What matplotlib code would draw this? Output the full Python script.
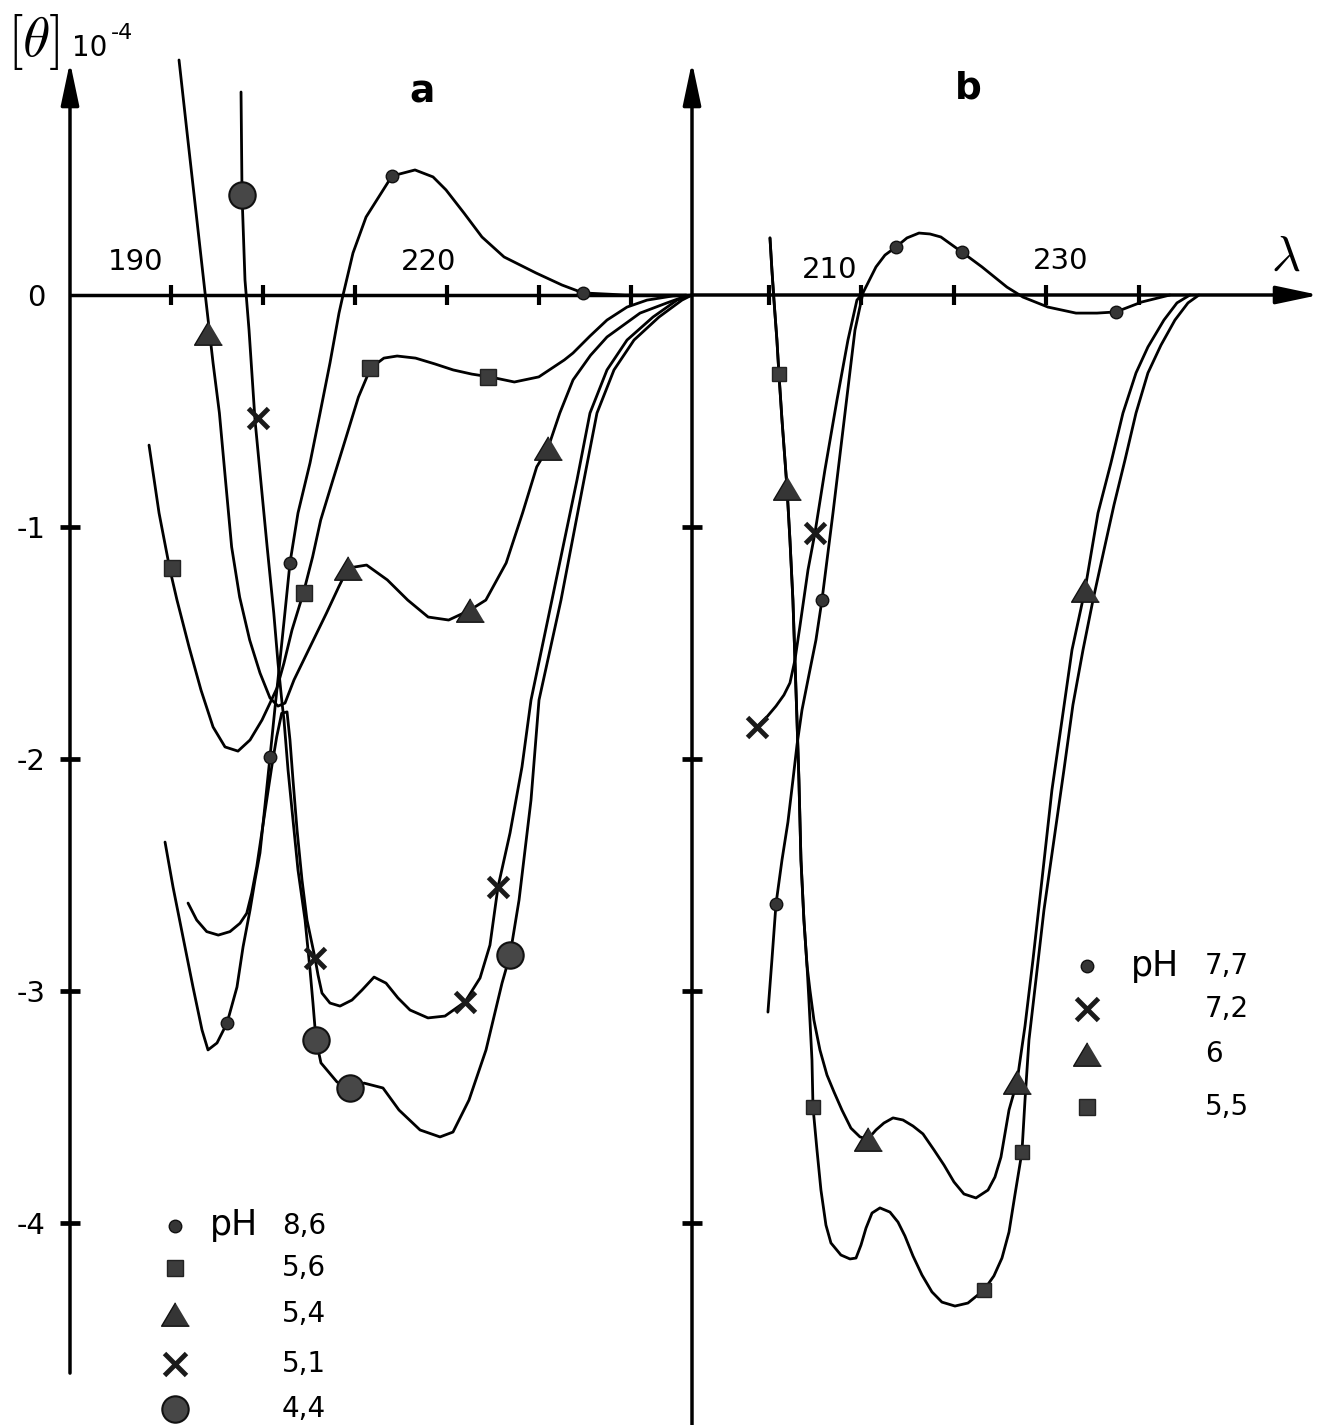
import matplotlib
matplotlib.use("Agg")
import matplotlib.pyplot as plt

plt.rcParams['font.family'] = ['DejaVu Sans']
plt.rcParams['mathtext.fontset'] = 'cm'
plt.rcParams['axes.unicode_minus'] = False

# ---------------- panel a (wavelength nm, [theta] x 1e-4) ----------------
# pH 8.6 (small dots)
a86_wl = [189.35, 190.22, 191.30, 192.39, 193.37, 194.02, 195.00, 196.09, 197.17, 197.83,
          198.59, 199.13, 199.67, 200.22, 200.76, 201.30, 201.85, 202.39, 202.93, 203.80,
          205.11, 206.20, 207.28, 208.26, 208.70, 209.78, 211.20, 214.02, 216.52, 218.48,
          219.89, 221.85, 223.80, 226.20, 229.67, 232.50, 234.78, 239.35, 246.00]
a86_th = [-2.358, -2.552, -2.767, -2.983, -3.168, -3.254, -3.224, -3.138, -2.983, -2.810,
          -2.651, -2.522, -2.405, -2.198, -1.991, -1.780, -1.573, -1.366, -1.155, -0.940,
          -0.724, -0.509, -0.293, -0.078, 0.0, 0.181, 0.336, 0.513, 0.539, 0.509,
          0.453, 0.353, 0.250, 0.164, 0.095, 0.043, 0.009, 0.0, 0.0]
a86_mk_wl = [196.09, 200.76, 202.93, 214.02, 234.78]
a86_mk_th = [-3.138, -1.991, -1.155, 0.513, 0.009]

# pH 5.6 (squares)
a56_wl = [187.61, 188.70, 189.89, 190.65, 191.96, 193.26, 194.57, 195.87, 197.28, 198.59,
          199.89, 200.76, 201.52, 202.28, 203.15, 204.39, 205.39, 206.27, 207.60, 209.04,
          210.37, 211.70, 213.14, 214.58, 216.58, 218.67, 220.67, 222.70, 224.66, 227.32,
          229.98, 232.75, 233.70, 235.54, 237.39, 239.57, 241.74, 244.57, 246.60]
a56_th = [-0.647, -0.940, -1.185, -1.315, -1.517, -1.703, -1.862, -1.948, -1.966, -1.918,
          -1.832, -1.759, -1.694, -1.586, -1.444, -1.284, -1.129, -0.970, -0.797, -0.612,
          -0.440, -0.315, -0.272, -0.263, -0.272, -0.297, -0.323, -0.341, -0.353, -0.375,
          -0.353, -0.280, -0.250, -0.177, -0.108, -0.052, -0.022, -0.004, 0.0]
a56_mk_wl = [190.11, 204.46, 211.63, 224.46]
a56_mk_th = [-1.177, -1.284, -0.315, -0.353]

# pH 5.4 (triangles)
a54_wl = [190.87, 191.75, 192.57, 193.70, 194.57, 195.26, 195.92, 196.59, 197.46, 198.55,
          199.67, 200.76, 201.63, 202.39, 203.37, 205.11, 206.90, 208.22, 209.24, 211.26,
          213.51, 215.73, 217.95, 220.18, 222.50, 224.22, 226.43, 228.21, 229.75, 230.98,
          232.26, 233.70, 235.60, 237.39, 240.98, 243.91, 245.65, 246.60]
a54_th = [1.013, 0.698, 0.409, 0.009, -0.293, -0.509, -0.797, -1.086, -1.302, -1.487,
          -1.629, -1.737, -1.772, -1.759, -1.659, -1.517, -1.371, -1.259, -1.177, -1.164,
          -1.228, -1.315, -1.388, -1.401, -1.358, -1.315, -1.155, -0.940, -0.741, -0.659,
          -0.509, -0.366, -0.260, -0.181, -0.078, -0.034, -0.009, 0.0]
a54_mk_wl = [194.0, 209.24, 222.50, 230.98]
a54_mk_th = [-0.164, -1.177, -1.358, -0.659]

# pH 5.1 (crosses)
a51_wl = [191.85, 192.79, 193.88, 195.14, 196.41, 197.50, 198.23, 198.77, 199.32, 199.86,
          200.40, 200.95, 201.49, 202.03, 202.61, 202.93, 203.26, 203.70, 204.24, 204.78,
          205.65, 205.98, 206.41, 207.28, 208.37, 209.67, 210.76, 212.07, 213.37, 214.67,
          215.98, 217.93, 219.78, 221.96, 223.59, 224.67, 225.54, 226.85, 228.15, 229.13,
          231.63, 234.13, 235.54, 237.39, 239.57, 242.39, 245.00, 246.63]
a51_th = [-2.621, -2.694, -2.744, -2.759, -2.744, -2.708, -2.665, -2.579, -2.464, -2.320,
          -2.177, -2.033, -1.904, -1.803, -1.797, -1.918, -2.091, -2.306, -2.522, -2.694,
          -2.858, -2.931, -3.009, -3.052, -3.065, -3.039, -2.996, -2.940, -2.966, -3.030,
          -3.082, -3.116, -3.108, -3.047, -2.944, -2.802, -2.552, -2.319, -2.034, -1.746,
          -1.272, -0.797, -0.509, -0.323, -0.194, -0.095, -0.022, 0.0]
a51_mk_wl = [199.46, 205.65, 221.96, 225.54]
a51_mk_th = [-0.530, -2.858, -3.047, -2.552]

# pH 4.4 (large circles)
a44_wl = [197.61, 197.72, 198.04, 198.48, 199.13, 199.75, 200.45, 201.17, 201.63, 202.07,
          202.28, 202.72, 203.26, 203.80, 204.57, 205.11, 205.43, 205.76, 206.30, 208.04,
          209.46, 210.98, 213.04, 214.78, 217.07, 219.24, 220.65, 222.39, 224.24, 225.98,
          226.85, 227.83, 229.13, 230.00, 232.39, 234.89, 236.30, 238.15, 240.33, 243.04,
          245.54, 246.63]
a44_th = [0.875, 0.431, 0.065, -0.151, -0.539, -0.797, -1.086, -1.371, -1.586, -1.759,
          -1.832, -2.047, -2.263, -2.478, -2.694, -2.909, -3.052, -3.211, -3.310, -3.392,
          -3.418, -3.397, -3.418, -3.513, -3.599, -3.629, -3.608, -3.470, -3.254, -2.966,
          -2.845, -2.608, -2.177, -1.746, -1.315, -0.797, -0.509, -0.323, -0.194, -0.095,
          -0.022, 0.0]
a44_mk_wl = [197.72, 205.76, 209.46, 226.85]
a44_mk_th = [0.431, -3.211, -3.418, -2.845]

# ---------------- panel b ----------------
# pH 7.7 (small dots)
b77_wl = [199.89, 200.32, 200.76, 201.41, 202.05, 202.59, 203.03, 203.57, 204.32, 205.08,
          205.73, 206.92, 208.22, 209.30, 210.16, 211.57, 212.54, 213.73, 214.92, 216.22,
          217.41, 218.59, 220.86, 223.03, 225.73, 227.46, 230.16, 233.19, 235.46, 237.51,
          240.32, 243.35]
b77_th = [-3.091, -2.866, -2.625, -2.435, -2.272, -2.091, -1.940, -1.789, -1.638, -1.487,
          -1.315, -0.940, -0.509, -0.151, 0.009, 0.121, 0.172, 0.207, 0.246, 0.267,
          0.263, 0.250, 0.185, 0.121, 0.034, -0.009, -0.052, -0.078, -0.078, -0.073,
          -0.030, 0.0]
b77_mk_wl = [200.76, 205.73, 213.73, 220.86, 237.51]
b77_mk_th = [-2.625, -1.315, 0.207, 0.185, -0.073]

# pH 7.2 (crosses)
b72_wl = [198.70, 199.68, 200.76, 201.62, 202.27, 202.81, 203.35, 204.22, 204.97, 206.05,
          207.35, 208.54, 209.51, 210.16]
b72_th = [-1.862, -1.823, -1.772, -1.724, -1.672, -1.573, -1.427, -1.185, -1.026, -0.754,
          -0.453, -0.194, -0.022, 0.009]
b72_mk_wl = [198.70, 204.97]
b72_mk_th = [-1.862, -1.026]

# common steep branch of pH 6 and pH 5.5 below 204 nm
b_left_wl = [200.11, 200.32, 200.54, 200.86, 201.08, 201.41, 201.73, 201.95, 202.27, 202.59,
             202.81, 203.03, 203.24, 203.46, 203.78, 204.11]
b_left_th = [0.246, 0.108, -0.022, -0.194, -0.341, -0.539, -0.711, -0.832, -1.056, -1.315,
             -1.573, -1.832, -2.091, -2.435, -2.694, -2.888]

# pH 6 (triangles)
b6_wl = b_left_wl + [204.43, 204.86, 205.51, 206.27, 207.03, 207.89, 208.86, 209.84, 210.70,
                     211.57, 212.43, 213.41, 214.49, 215.57, 216.65, 217.84, 218.92, 220.00,
                     221.08, 222.38, 223.68, 224.43, 225.08, 225.95, 226.81, 227.68, 228.54,
                     229.51, 230.59, 231.68, 232.76, 234.16, 235.57, 236.97, 238.27, 239.68,
                     240.97, 242.70, 244.11, 245.51]
b6_th = b_left_th + [-2.996, -3.125, -3.254, -3.362, -3.435, -3.513, -3.591, -3.629, -3.638,
                     -3.599, -3.569, -3.547, -3.556, -3.582, -3.616, -3.685, -3.750, -3.823,
                     -3.875, -3.892, -3.858, -3.802, -3.716, -3.513, -3.392, -3.151, -2.866,
                     -2.522, -2.134, -1.832, -1.530, -1.272, -0.940, -0.724, -0.509, -0.336,
                     -0.224, -0.108, -0.034, 0.0]
b6_mk_wl = [201.95, 210.70, 226.81, 234.16]
b6_mk_th = [-0.832, -3.638, -3.392, -1.272]

# pH 5.5 (squares)
b55_wl = b_left_wl + [204.32, 204.65, 204.76, 205.19, 205.62, 206.16, 206.70, 207.78, 208.76,
                      209.41, 209.95, 210.49, 211.14, 212.00, 213.08, 213.95, 214.70, 215.57,
                      216.54, 217.62, 218.70, 220.11, 221.51, 223.24, 224.32, 225.19, 225.95,
                      226.59, 227.35, 227.68, 228.11, 228.86, 229.73, 230.81, 231.89, 232.86,
                      233.95, 235.03, 236.22, 237.30, 238.49, 239.68, 240.97, 242.38, 243.89,
                      245.30, 246.49]
b55_th = b_left_th + [-3.039, -3.297, -3.500, -3.685, -3.858, -4.009, -4.086, -4.138, -4.155,
                      -4.151, -4.095, -4.022, -3.957, -3.935, -3.953, -3.996, -4.056, -4.142,
                      -4.224, -4.297, -4.341, -4.358, -4.345, -4.289, -4.228, -4.151, -4.039,
                      -3.879, -3.694, -3.470, -3.211, -2.953, -2.651, -2.349, -2.047, -1.767,
                      -1.530, -1.315, -1.099, -0.905, -0.711, -0.509, -0.336, -0.216, -0.108,
                      -0.034, 0.0]
b55_mk_wl = [201.08, 204.76, 223.24, 227.35]
b55_mk_th = [-0.341, -3.500, -4.289, -3.694]

a_ticks = [190, 200, 210, 220, 230, 240]
b_ticks = [200, 210, 220, 230, 240]
y_ticks = [-4, -3, -2, -1, 0]
y_labels = ['-4', '-3', '-2', '-1', '0']

legend_a = ['8,6', '5,6', '5,4', '5,1', '4,4']
legend_b = ['7,7', '7,2', '6', '5,5']

# ---------------- figure ----------------
W, H = 1321, 1425
YTOP, YBOT = 295 / 232, -(H - 295) / 232

fig = plt.figure(figsize=(W / 100, H / 100), dpi=100)
ax_a = fig.add_axes([70 / W, 0, 622 / W, 1])
ax_b = fig.add_axes([692 / W, 0, 629 / W, 1])
ax_a.set_xlim(179.02, 246.63)
ax_b.set_xlim(191.68, 259.68)

TRI = [(0, 0.8), (-0.95, -0.8), (0.95, -0.8)]
INK = '#111111'
FILL = '#353535'
dot = dict(marker='o', ms=9, mfc=FILL, mec=INK, mew=1, ls='none', zorder=5)
sq = dict(marker='s', ms=11, mfc='#3c3c3c', mec='#222222', mew=1, ls='none', zorder=5)
tri = dict(marker=TRI, ms=20, mfc=FILL, mec=INK, mew=1, ls='none', zorder=5)
cross = dict(marker='x', ms=15, mec='#1a1a1a', mew=3.5, ls='none', zorder=5)
big = dict(marker='o', ms=19, mfc='#474747', mec=INK, mew=1.5, ls='none', zorder=5)
line = dict(color='black', lw=2.0, solid_joinstyle='round', solid_capstyle='round', zorder=3)

arrow = dict(arrowstyle='-|>,head_length=2.6,head_width=0.55', mutation_scale=10,
             lw=2.5, color='black', shrinkA=0, shrinkB=0)

for ax in (ax_a, ax_b):
    ax.set_ylim(YBOT, YTOP)
    ax.patch.set_alpha(0)
    for s in ax.spines.values():
        s.set_visible(False)
    ax.spines['bottom'].set_position(('data', 0))
    ax.tick_params(axis='x', direction='inout', length=14, width=3.0, color='black',
                   labelbottom=False)
    ax.tick_params(axis='y', direction='inout', length=15, width=3.4, color='black',
                   labelsize=21, pad=10)

# panel a axes
ax_a.set_xticks(a_ticks)
ax_a.set_yticks(y_ticks)
ax_a.set_yticklabels(y_labels)
ax_a.yaxis.get_major_ticks()[-1].tick1line.set_visible(False)
ax_a.axhline(0, color='black', lw=2.5, zorder=2)
ax_a.annotate('', xy=(0, 1.004), xytext=(0, -4.647),
              xycoords=ax_a.get_yaxis_transform(), textcoords=ax_a.get_yaxis_transform(),
              arrowprops=arrow)

# panel b axes
ax_b.set_xticks(b_ticks)
ax_b.set_yticks(y_ticks[:-1])
ax_b.tick_params(axis='y', labelleft=False)
ax_b.annotate('', xy=(0, 1.004), xytext=(0, YBOT),
              xycoords=ax_b.get_yaxis_transform(), textcoords=ax_b.get_yaxis_transform(),
              arrowprops=arrow)
ax_b.annotate('', xy=(259.46, 0), xytext=(191.68, 0), arrowprops=arrow)

# curves panel a
ax_a.plot(a86_wl, a86_th, **line)
ax_a.plot(a56_wl, a56_th, **line)
ax_a.plot(a54_wl, a54_th, **line)
ax_a.plot(a51_wl, a51_th, **line)
ax_a.plot(a44_wl, a44_th, **line)
ax_a.plot(a86_mk_wl, a86_mk_th, **dot)
ax_a.plot(a56_mk_wl, a56_mk_th, **sq)
ax_a.plot(a54_mk_wl, a54_mk_th, **tri)
ax_a.plot(a51_mk_wl, a51_mk_th, **cross)
ax_a.plot(a44_mk_wl, a44_mk_th, **big)

# curves panel b
ax_b.plot(b77_wl, b77_th, **line)
ax_b.plot(b72_wl, b72_th, **line)
ax_b.plot(b6_wl, b6_th, **line)
ax_b.plot(b55_wl, b55_th, **line)
ax_b.plot(b77_mk_wl, b77_mk_th, **dot)
ax_b.plot(b72_mk_wl, b72_mk_th, **cross)
ax_b.plot(b6_mk_wl, b6_mk_th, **tri)
ax_b.plot(b55_mk_wl, b55_mk_th, **dict(sq, ms=10))

# wavelength labels (printed left of their ticks in the original)
ax_a.text(186.2, 0.142, '190', ha='center', va='center', fontsize=21)
ax_a.text(218.0, 0.142, '220', ha='center', va='center', fontsize=21)
ax_b.text(206.6, 0.108, '210', ha='center', va='center', fontsize=21)
ax_b.text(231.5, 0.147, '230', ha='center', va='center', fontsize=21)

# ---------------- overlay in pixel space: titles and keys ----------------
ov = fig.add_axes([0, 0, 1, 1])
ov.set_xlim(0, W)
ov.set_ylim(H, 0)
ov.axis('off')

ov.text(33, 42, r'$[\theta]$', fontsize=40, ha='center', va='center')
ov.text(72, 48, '10', fontsize=20, ha='left', va='center')
ov.text(111, 33, '-4', fontsize=16, ha='left', va='center')
ov.text(1286, 256, r'$\lambda$', fontsize=36, ha='center', va='center')
ov.text(422, 92, 'a', fontsize=27, fontweight='bold', ha='center', va='center')
ov.text(968, 88, 'b', fontsize=27, fontweight='bold', ha='center', va='center')

rows_a = [1226, 1268, 1314, 1364, 1409]
keys_a = [dot, dict(sq, ms=12), tri, dict(cross, ms=16), big]
for y, k, lab in zip(rows_a, keys_a, legend_a):
    ov.plot([175], [y], **k)
    ov.text(282, y, lab, fontsize=20, ha='left', va='center')
ov.text(210, 1235, 'pH', fontsize=25, ha='left', va='baseline')

rows_b = [966, 1009, 1054, 1107]
keys_b = [dot, dict(cross, ms=16), tri, dict(sq, ms=12)]
for y, k, lab in zip(rows_b, keys_b, legend_b):
    ov.plot([1087], [y], **k)
    ov.text(1205, y, lab, fontsize=20, ha='left', va='center')
ov.text(1131, 976, 'pH', fontsize=25, ha='left', va='baseline')

fig.savefig('out.png', dpi=100)
